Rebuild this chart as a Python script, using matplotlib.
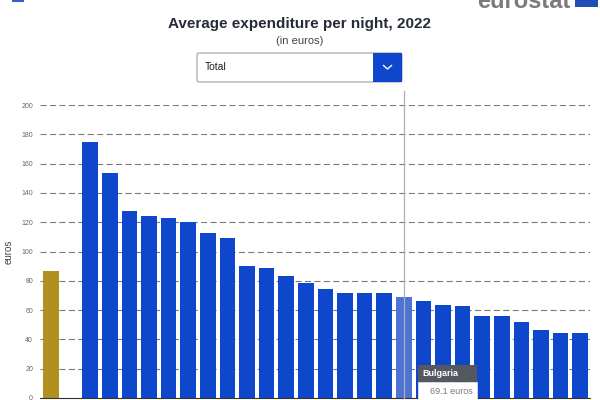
import numpy as np
import matplotlib
matplotlib.use('Agg')
import matplotlib.pyplot as plt
from matplotlib.patches import Rectangle, FancyBboxPatch

plt.rcParams['font.family'] = ['Liberation Sans', 'DejaVu Sans']

# Data
eu_label = "EU"
eu_value = 86.7
countries = ["Luxembourg", "Denmark", "Ireland", "Sweden", "Netherlands", "Belgium",
             "Finland", "Austria", "France", "Germany", "Malta", "Italy", "Cyprus",
             "Spain", "Portugal", "Slovenia", "Bulgaria", "Estonia", "Latvia", "Greece",
             "Croatia", "Lithuania", "Poland", "Hungary", "Czechia", "Slovakia"]
values = [175.0, 153.5, 127.8, 124.2, 123.0, 119.8, 112.8, 109.2, 90.3, 88.7,
          83.5, 78.8, 74.6, 71.5, 71.5, 71.5, 69.1, 66.5, 63.3, 62.9,
          56.3, 55.9, 51.8, 46.1, 44.5, 44.1]
y_ticks = list(range(0, 201, 20))
hover_country = "Bulgaria"

BLUE = '#0e47cb'
BLUE_HL = '#4e73d6'
GOLD = '#b09120'

fig = plt.figure(figsize=(6, 4), dpi=100)
W, H = 600, 400

# main plot area, pixel box: x 40..590, y 105..398
ax = fig.add_axes([40 / W, 2 / H, 550 / W, 293 / H])
x_eu = 0
x_c = np.arange(len(countries)) + 2
colors = [BLUE_HL if c == hover_country else BLUE for c in countries]
ax.bar([x_eu], [eu_value], width=0.8, color=GOLD, zorder=2)
ax.bar(x_c, values, width=0.8, color=colors, zorder=2)

ax.set_xlim(-0.56, 27.5)
ax.set_ylim(0, 200)
ax.set_yticks(y_ticks)
ax.set_yticklabels([str(t) for t in y_ticks], fontsize=5, color='#666666')
ax.tick_params(axis='y', length=0, pad=5)
ax.set_xticks([])
ax.yaxis.grid(True, color='#7a7a7a', linewidth=0.8, linestyle=(0, (5.5, 3)), zorder=0)
for s in ['top', 'right', 'left']:
    ax.spines[s].set_visible(False)
ax.spines['bottom'].set_color('#333333')
ax.spines['bottom'].set_linewidth(0.8)
ax.set_ylabel("euros", fontsize=7, color='#444444')
ax.yaxis.set_label_coords((14 - 40) / 550, 0.5)

# hover crosshair on the highlighted bar
hx = x_c[countries.index(hover_country)]
ax.axvline(hx, ymin=0, ymax=(398 - 91) / 293, color='#b0b0b0', linewidth=0.9,
           zorder=3, clip_on=False)

# overlay in pixel coordinates for title, dropdown, tooltip, logo
ov = fig.add_axes([0, 0, 1, 1], zorder=5)
ov.set_xlim(0, W)
ov.set_ylim(H, 0)
ov.axis('off')
ov.patch.set_alpha(0)

ov.text(300, 24, "Average expenditure per night, 2022", ha='center', va='center',
        fontsize=11, fontweight='bold', color='#262b38')
ov.text(300, 41, "(in euros)", ha='center', va='center', fontsize=8, color='#444444')

# dropdown
ov.add_patch(FancyBboxPatch((197, 53), 205, 29, boxstyle="round,pad=0,rounding_size=2",
                            facecolor='white', edgecolor='#9aa0a8', linewidth=0.8))
ov.add_patch(Rectangle((373, 53), 29, 29, facecolor=BLUE, edgecolor='none'))
ov.plot([383.5, 387.5, 391.5], [65.5, 69, 65.5], color='white', linewidth=1)
ov.text(205, 67.5, "Total", ha='left', va='center', fontsize=7.5, color='#222222')

# tooltip
ov.add_patch(Rectangle((418, 382), 59, 20, facecolor='white', edgecolor='#dddddd',
                       linewidth=0.6))
ov.add_patch(Rectangle((418, 365), 59, 17, facecolor='#55585e', edgecolor='none'))
ov.text(422, 373.5, hover_country, ha='left', va='center', fontsize=6.5,
        fontweight='bold', color='white')
ov.text(430, 391.5, f"{values[countries.index(hover_country)]:.1f} euros", ha='left',
        va='center', fontsize=6.5, color='#777777')

# eurostat logo, cut off at the top edge
ov.text(570, 1, "eurostat", ha='right', va='center', fontsize=17, fontweight='bold',
        color='#7b7b7b')
ov.add_patch(Rectangle((575, -4), 23, 11, facecolor='#1f4fb5', edgecolor='none'))
ov.plot([13, 23], [1, 1], color='#3a5fc8', linewidth=1.5)

fig.savefig("out.png", dpi=100)
